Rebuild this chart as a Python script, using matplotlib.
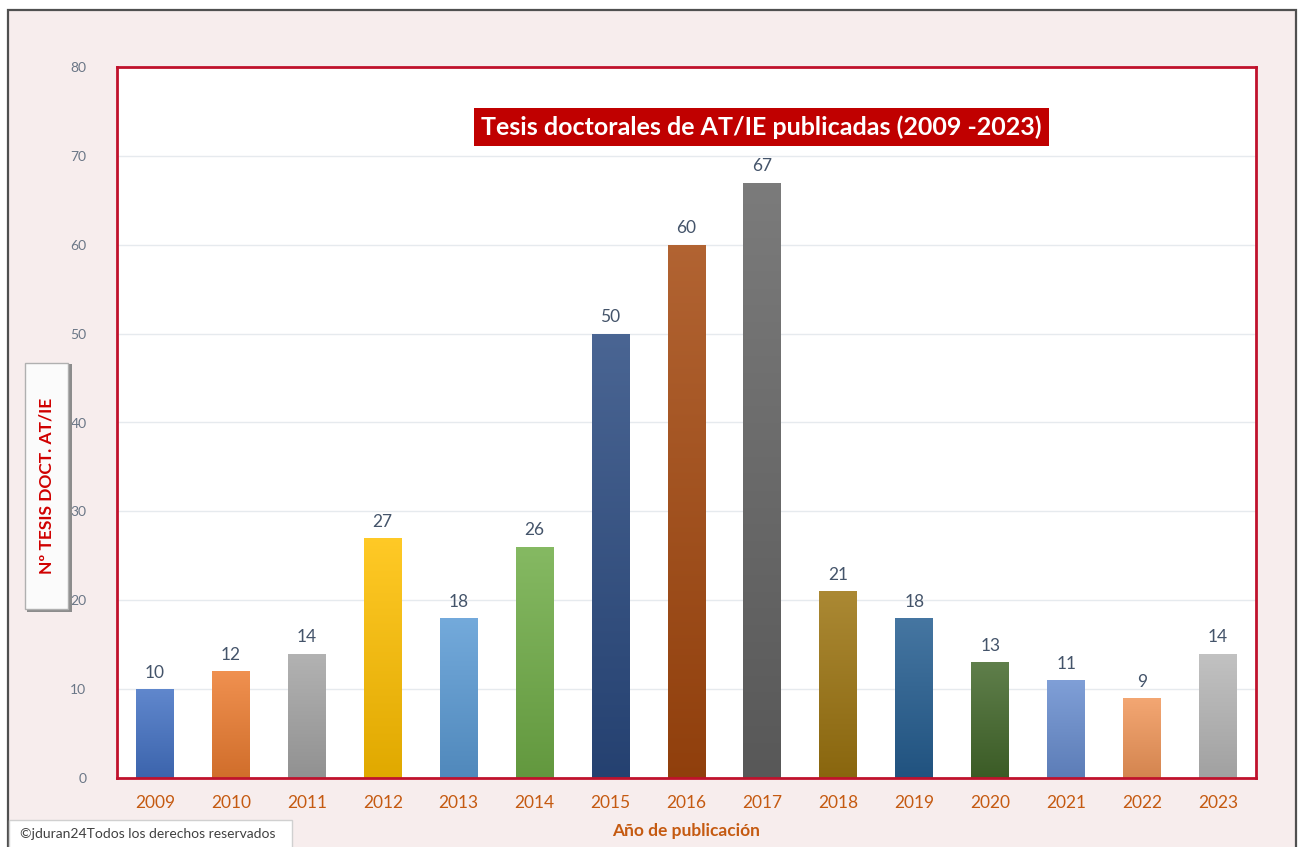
import numpy as np
import matplotlib
matplotlib.use("Agg")
import matplotlib.pyplot as plt
from matplotlib.patches import Rectangle
from matplotlib.colors import to_rgb

plt.rcParams['font.family'] = ['Lato', 'DejaVu Sans']

years = ["2009", "2010", "2011", "2012", "2013", "2014", "2015", "2016",
         "2017", "2018", "2019", "2020", "2021", "2022", "2023"]
tesis = [10, 12, 14, 27, 18, 26, 50, 60, 67, 21, 18, 13, 11, 9, 14]
bar_colors = ["#4472C4", "#ED7D31", "#A5A5A5", "#FFC000", "#5B9BD5", "#70AD47",
              "#2A4A80", "#A4480E", "#646464", "#9C7410", "#255E91", "#43682B",
              "#698ED0", "#F1975A", "#B7B7B7"]

W, H = 1303, 847
fig = plt.figure(figsize=(W / 100, H / 100), dpi=100, facecolor="white")

# outer frame with pink background
fig.patches.append(Rectangle((8 / W, -0.02), (1296 - 8) / W, (847 - 10) / H + 0.02,
                             transform=fig.transFigure, facecolor="#F7EDED",
                             edgecolor="#505050", linewidth=1.6, zorder=-5))

ax = fig.add_axes([117 / W, (H - 778) / H, (1256 - 117) / W, (778 - 67) / H])
ax.set_facecolor("white")
x = np.arange(len(years))
bars = ax.bar(x, tesis, width=0.5, zorder=2)


def mix(c, other, t):
    c = np.array(to_rgb(c))
    return tuple(c * (1 - t) + np.array(other) * t)


for b, col in zip(bars, bar_colors):
    top = mix(col, (1, 1, 1), 0.15)
    bot = mix(col, (0, 0, 0), 0.12)
    grad = np.linspace(0, 1, 256)[:, None, None]
    img = np.array(top)[None, None, :] * (1 - grad) + np.array(bot)[None, None, :] * grad
    x0, y0 = b.get_x(), b.get_y()
    im = ax.imshow(img, extent=(x0, x0 + b.get_width(), y0, y0 + b.get_height()),
                   aspect="auto", zorder=2, origin="upper")
    b.set_facecolor("none")
    b.set_edgecolor("none")
    im.set_clip_path(b)

for xi, v in zip(x, tesis):
    ax.text(xi, v + 0.95, str(v), ha="center", va="bottom", fontsize=12.5,
            color="#44546A")

ax.set_xlim(-0.5, len(years) - 0.5)
ax.set_ylim(0, 80)
ax.set_yticks(range(0, 81, 10))
ax.grid(axis="y", color="#E6EAEE", linewidth=1, zorder=0)
ax.set_axisbelow(True)
ax.set_xticks(x)
ax.set_xticklabels(years, fontsize=12.5, color="#C55A11")
ax.tick_params(axis="y", labelsize=10, labelcolor="#6A7686", length=0, pad=22)
ax.tick_params(axis="x", length=0, pad=12)
for s in ax.spines.values():
    s.set_color("#C0122C")
    s.set_linewidth(2)

ax.set_xlabel("Año de publicación", fontsize=12.5, fontweight="bold",
              color="#C55A11", labelpad=9)

ax.text(0.566, 0.916, "Tesis doctorales de AT/IE publicadas (2009 -2023)",
        transform=ax.transAxes, ha="center", va="center", fontsize=18,
        fontweight="bold", color="white",
        bbox=dict(boxstyle="square,pad=0.28", facecolor="#C00000", edgecolor="none"))

# y label box
fig.patches.append(Rectangle((27 / W, (H - 612) / H), 45 / W, 248 / H,
                             transform=fig.transFigure, facecolor="#8C8C8C",
                             edgecolor="none", zorder=3))
fig.patches.append(Rectangle((25 / W, (H - 609) / H), 43 / W, 246 / H,
                             transform=fig.transFigure, facecolor="#FBFBFB",
                             edgecolor="#B0B0B0", linewidth=1, zorder=4))
fig.text(47 / W, (H - 486) / H, "Nº TESIS DOCT. AT/IE", rotation=90,
         ha="center", va="center", fontsize=12.5, fontweight="bold",
         color="#D00000", zorder=5)

# copyright box
fig.patches.append(Rectangle((9 / W, -0.01), 283 / W, (847 - 820) / H + 0.01,
                             transform=fig.transFigure, facecolor="white",
                             edgecolor="#D0D0D0", linewidth=1, zorder=3))
fig.text(20 / W, (H - 834) / H, "©jduran24Todos los derechos reservados",
         ha="left", va="center", fontsize=10, color="#404040", zorder=5)

fig.savefig("out.png", dpi=100, facecolor=fig.get_facecolor())
